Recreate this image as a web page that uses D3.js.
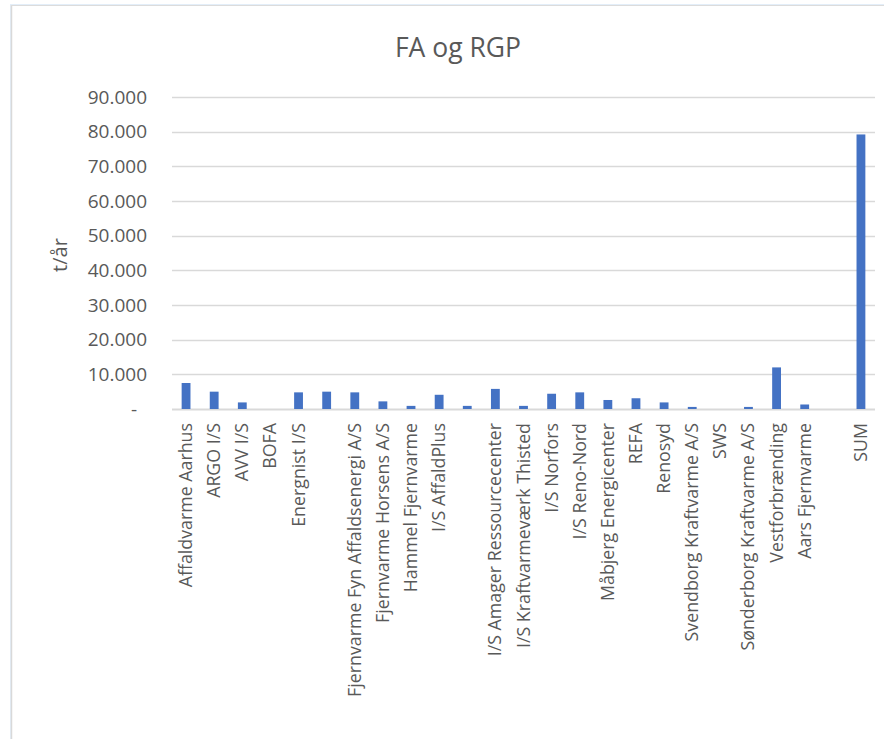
<!DOCTYPE html>
<html>
<head>
<meta charset="utf-8">
<script src="https://cdn.jsdelivr.net/npm/d3@7"></script>
<style>
  html, body { margin: 0; padding: 0; background: #fff; }
  svg { display: block; }
  text { font-family: "Open Sans", "Noto Sans", sans-serif; fill: #595959; }
</style>
</head>
<body>
<div id="chart"></div>
<script>
// ---- data ----
const categories = [
  "Affaldvarme Aarhus", "ARGO I/S", "AVV I/S", "BOFA", "Energnist I/S", "",
  "Fjernvarme Fyn Affaldsenergi A/S", "Fjernvarme Horsens A/S", "Hammel Fjernvarme",
  "I/S AffaldPlus", "", "I/S Amager Ressourcecenter", "I/S Kraftvarmeværk Thisted",
  "I/S Norfors", "I/S Reno-Nord", "Måbjerg Energicenter", "REFA", "Renosyd",
  "Svendborg Kraftvarme A/S", "SWS", "Sønderborg Kraftvarme A/S", "Vestforbrænding",
  "Aars Fjernvarme", "", "SUM"
];
const values = [
  7500, 5000, 1900, 0, 4800, 5000,
  4800, 2200, 900,
  4100, 900, 5800, 900,
  4400, 4800, 2600, 3100, 1900,
  600, 0, 600, 12000,
  1300, 0, 79200
];
const yTicks = [0, 10000, 20000, 30000, 40000, 50000, 60000, 70000, 80000, 90000];
const title = "FA og RGP";
const yTitle = "t/år";

// ---- layout ----
const W = 884, H = 739;
const plot = { left: 172, right: 875, top: 97, bottom: 409 };

const svg = d3.select("#chart").append("svg").attr("width", W).attr("height", H);

// outer chart border (cropped Excel chart area)
svg.append("line").attr("x1", 10.5).attr("x2", 10.5).attr("y1", 4).attr("y2", H)
  .attr("stroke", "#e3eef9").attr("stroke-width", 1);
svg.append("line").attr("x1", 10).attr("x2", W).attr("y1", 4.5).attr("y2", 4.5)
  .attr("stroke", "#e3eef9").attr("stroke-width", 1);
svg.append("line").attr("x1", 11.5).attr("x2", 11.5).attr("y1", 5).attr("y2", H)
  .attr("stroke", "#d9d9d9").attr("stroke-width", 1.5);
svg.append("line").attr("x1", 11).attr("x2", W).attr("y1", 5.5).attr("y2", 5.5)
  .attr("stroke", "#dcdcdc").attr("stroke-width", 1);

const x = d3.scaleBand()
  .domain(d3.range(categories.length))
  .range([plot.left, plot.right])
  .paddingInner(0.686)
  .paddingOuter(0.343);

const y = d3.scaleLinear().domain([0, 90000]).range([plot.bottom, plot.top]);

const loc = d3.formatLocale({ decimal: ",", thousands: ".", grouping: [3], currency: ["", ""] });
const fmt = loc.format(",.0f");

// gridlines
svg.append("g").selectAll("line").data(yTicks).join("line")
  .attr("x1", plot.left).attr("x2", plot.right)
  .attr("y1", d => Math.round(y(d)) + 0.5).attr("y2", d => Math.round(y(d)) + 0.5)
  .attr("stroke", "#d9d9d9").attr("stroke-width", d => d === 0 ? 2 : 1.5);

// y axis labels
svg.append("g").selectAll("text").data(yTicks).join("text")
  .attr("x", d => d === 0 ? 137 : 147)
  .attr("y", d => y(d))
  .attr("dy", "0.35em")
  .attr("text-anchor", "end")
  .style("font-size", "19px")
  .text(d => d === 0 ? "-" : fmt(d));

// bars
svg.append("g").selectAll("rect").data(values).join("rect")
  .attr("x", (d, i) => x(i))
  .attr("width", x.bandwidth())
  .attr("y", d => y(d))
  .attr("height", d => y(0) - y(d))
  .attr("fill", "#4472c4");

// category labels
svg.append("g").selectAll("text").data(categories).join("text")
  .attr("transform", (d, i) => `translate(${x(i) + x.bandwidth() / 2 + 6},423) rotate(-90)`)
  .attr("text-anchor", "end")
  .style("font-size", "17.8px")
  .text(d => d);

// title
svg.append("text").attr("x", 458).attr("y", 57).attr("text-anchor", "middle")
  .style("font-size", "26.5px").text(title);

// y-axis title
svg.append("text").attr("transform", "translate(67,255) rotate(-90)")
  .attr("text-anchor", "middle").style("font-size", "20px").text(yTitle);
</script>
</body>
</html>
